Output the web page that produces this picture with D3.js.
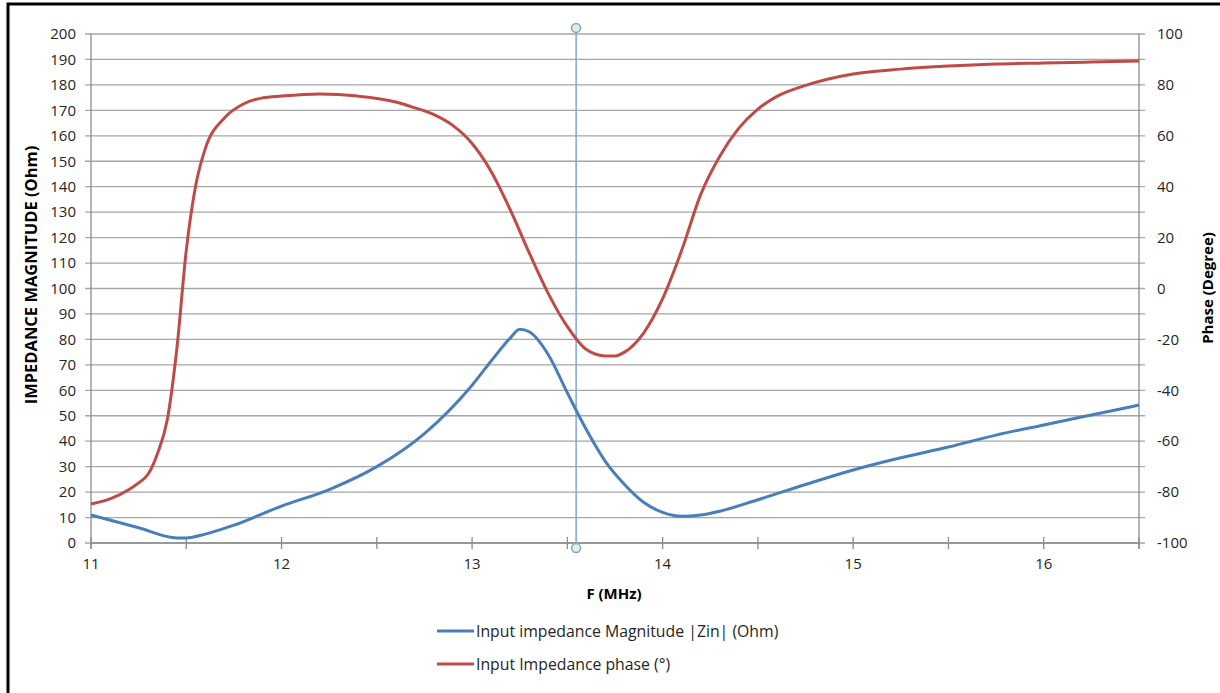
<!DOCTYPE html>
<html><head><meta charset="utf-8">
<script src="https://cdn.jsdelivr.net/npm/d3@7"></script>
<style>body{margin:0;background:#fff;} svg{display:block;}</style>
</head><body>
<svg id="c" width="1220" height="693"></svg>
<script>
// ---- data ----
const magFreq = [11.0,11.25,11.45,11.5,11.6,11.75,12.0,12.25,12.5,12.75,13.0,13.1,13.2,13.25,13.3,13.4,13.5,13.6,13.7,13.8,13.9,14.0,14.1,14.2,14.3,14.5,14.75,15.0,15.25,15.5,15.75,16.0,16.25,16.5];
const magValues = [11,6,2,2,3.5,7,14.5,21,30,43,62,71.5,80.5,84,83,74,59,44.5,32,23,16,12,10.5,11,12.5,17,23,28.7,33.5,37.7,42.4,46.4,50.3,54.2];
const phaseFreq = [11.0,11.1,11.2,11.25,11.3,11.35,11.4,11.45,11.5,11.55,11.6,11.7,11.8,11.9,12.0,12.2,12.4,12.6,12.7,12.8,12.9,13.0,13.1,13.2,13.3,13.4,13.5,13.6,13.7,13.75,13.8,13.9,14.0,14.1,14.2,14.3,14.4,14.5,14.6,14.75,15.0,15.25,15.5,15.75,16.0,16.25,16.5];
const phaseValues = [-84.7,-82.7,-79,-76.4,-72.9,-64.6,-51.7,-24,15,40.7,55,67,72.5,74.9,75.6,76.4,75.6,73.3,71,68.3,64,57,46,31,14,-2,-15,-24,-26.5,-26.5,-25,-17.5,-4,15,37,52,63,70.5,75.5,79.8,84.3,86.2,87.4,88.2,88.6,89,89.4];
const xTicks = [11,12,13,14,15,16];
const xMinorTicks = [11.5,12.5,13.5,14.5,15.5,16.5];
const leftTicks = d3.range(0,201,10);
const rightTicks = d3.range(-100,101,20);
const markerFreq = [13.546];
const seriesNames = ["Input impedance Magnitude |Zin| (Ohm)","Input Impedance phase (°)"];
const colors = ["#4A7EBB","#BE4B48"];

// ---- layout ----
const svg = d3.select("#c");
const L=91, R=1139, T=34, B=543;
const x = d3.scaleLinear().domain([11,16.5]).range([L,R]);
const yL = d3.scaleLinear().domain([0,200]).range([B,T]);
const yR = d3.scaleLinear().domain([-100,100]).range([B,T]);
const font = "'Open Sans', 'Liberation Sans', sans-serif";

// frame
svg.append("rect").attr("x",8).attr("y",4).attr("width",1240).attr("height",720)
  .attr("fill","none").attr("stroke","#000").attr("stroke-width",3);

// gridlines
svg.append("g").selectAll("line").data(leftTicks).join("line")
  .attr("x1",L-6).attr("x2",R+6).attr("y1",d=>yL(d)).attr("y2",d=>yL(d))
  .attr("stroke","#a6a6a6").attr("stroke-width",1.3);

// axes lines
svg.append("line").attr("x1",L).attr("x2",L).attr("y1",T).attr("y2",B+6).attr("stroke","#8c8c8c").attr("stroke-width",1.3);
svg.append("line").attr("x1",R).attr("x2",R).attr("y1",T).attr("y2",B+6).attr("stroke","#8c8c8c").attr("stroke-width",1.3);
svg.append("line").attr("x1",L).attr("x2",R).attr("y1",B).attr("y2",B).attr("stroke","#8c8c8c").attr("stroke-width",1.3);
// x ticks
svg.append("g").selectAll("line").data(xTicks.concat(xMinorTicks)).join("line")
  .attr("x1",d=>x(d)).attr("x2",d=>x(d)).attr("y1",B-6).attr("y2",B+6)
  .attr("stroke","#8c8c8c").attr("stroke-width",1.3);

// tick labels
svg.append("g").selectAll("text").data(leftTicks).join("text")
  .attr("x",L-15).attr("y",d=>yL(d)).attr("dy","0.35em").attr("text-anchor","end")
  .attr("font-family",font).attr("font-size",15).attr("fill","#262626").text(d=>d);
svg.append("g").selectAll("text").data(rightTicks).join("text")
  .attr("x",R+18).attr("y",d=>yR(d)).attr("dy","0.35em").attr("text-anchor","start")
  .attr("font-family",font).attr("font-size",15).attr("fill","#262626").text(d=>d);
svg.append("g").selectAll("text").data(xTicks).join("text")
  .attr("x",d=>x(d)).attr("y",B+26).attr("text-anchor","middle")
  .attr("font-family",font).attr("font-size",15).attr("fill","#262626").text(d=>d);

// axis titles
svg.append("text").attr("transform",`translate(37,275) rotate(-90)`)
  .attr("text-anchor","middle").attr("font-family",font).attr("font-size",16.5).attr("font-weight","bold")
  .text("IMPEDANCE MAGNITUDE (Ohm)");
svg.append("text").attr("transform",`translate(1213,288) rotate(-90)`)
  .attr("text-anchor","middle").attr("font-family",font).attr("font-size",15).attr("font-weight","bold")
  .text("Phase (Degree)");
svg.append("text").attr("x",614).attr("y",599).attr("text-anchor","middle")
  .attr("font-family",font).attr("font-size",15).attr("font-weight","bold").text("F (MHz)");

// vertical marker line
markerFreq.forEach(f=>{
  svg.append("line").attr("x1",x(f)).attr("x2",x(f)).attr("y1",yL(202.4)).attr("y2",yL(-2))
    .attr("stroke","#7fa6d6").attr("stroke-width",1.5);
  [202.4,-2].forEach(v=>svg.append("circle").attr("cx",x(f)).attr("cy",yL(v)).attr("r",4.5)
    .attr("fill","#d8f0f3").attr("stroke","#8fa3ad").attr("stroke-width",1.5));
});

// lines
const magLine = d3.line().x(d=>x(d[0])).y(d=>yL(d[1])).curve(d3.curveMonotoneX);
const phLine = d3.line().x(d=>x(d[0])).y(d=>yR(d[1])).curve(d3.curveMonotoneX);
svg.append("path").datum(d3.zip(phaseFreq,phaseValues)).attr("d",phLine)
  .attr("fill","none").attr("stroke",colors[1]).attr("stroke-width",3);
svg.append("path").datum(d3.zip(magFreq,magValues)).attr("d",magLine)
  .attr("fill","none").attr("stroke",colors[0]).attr("stroke-width",3);

// legend
seriesNames.forEach((n,i)=>{
  const yy = 631 + i*33;
  svg.append("line").attr("x1",437).attr("x2",474).attr("y1",yy).attr("y2",yy)
    .attr("stroke",colors[i]).attr("stroke-width",3);
  svg.append("text").attr("x",476).attr("y",yy).attr("dy","0.35em")
    .attr("font-family",font).attr("font-size",15.8).attr("fill","#262626").text(n);
});
</script>
</body></html>
